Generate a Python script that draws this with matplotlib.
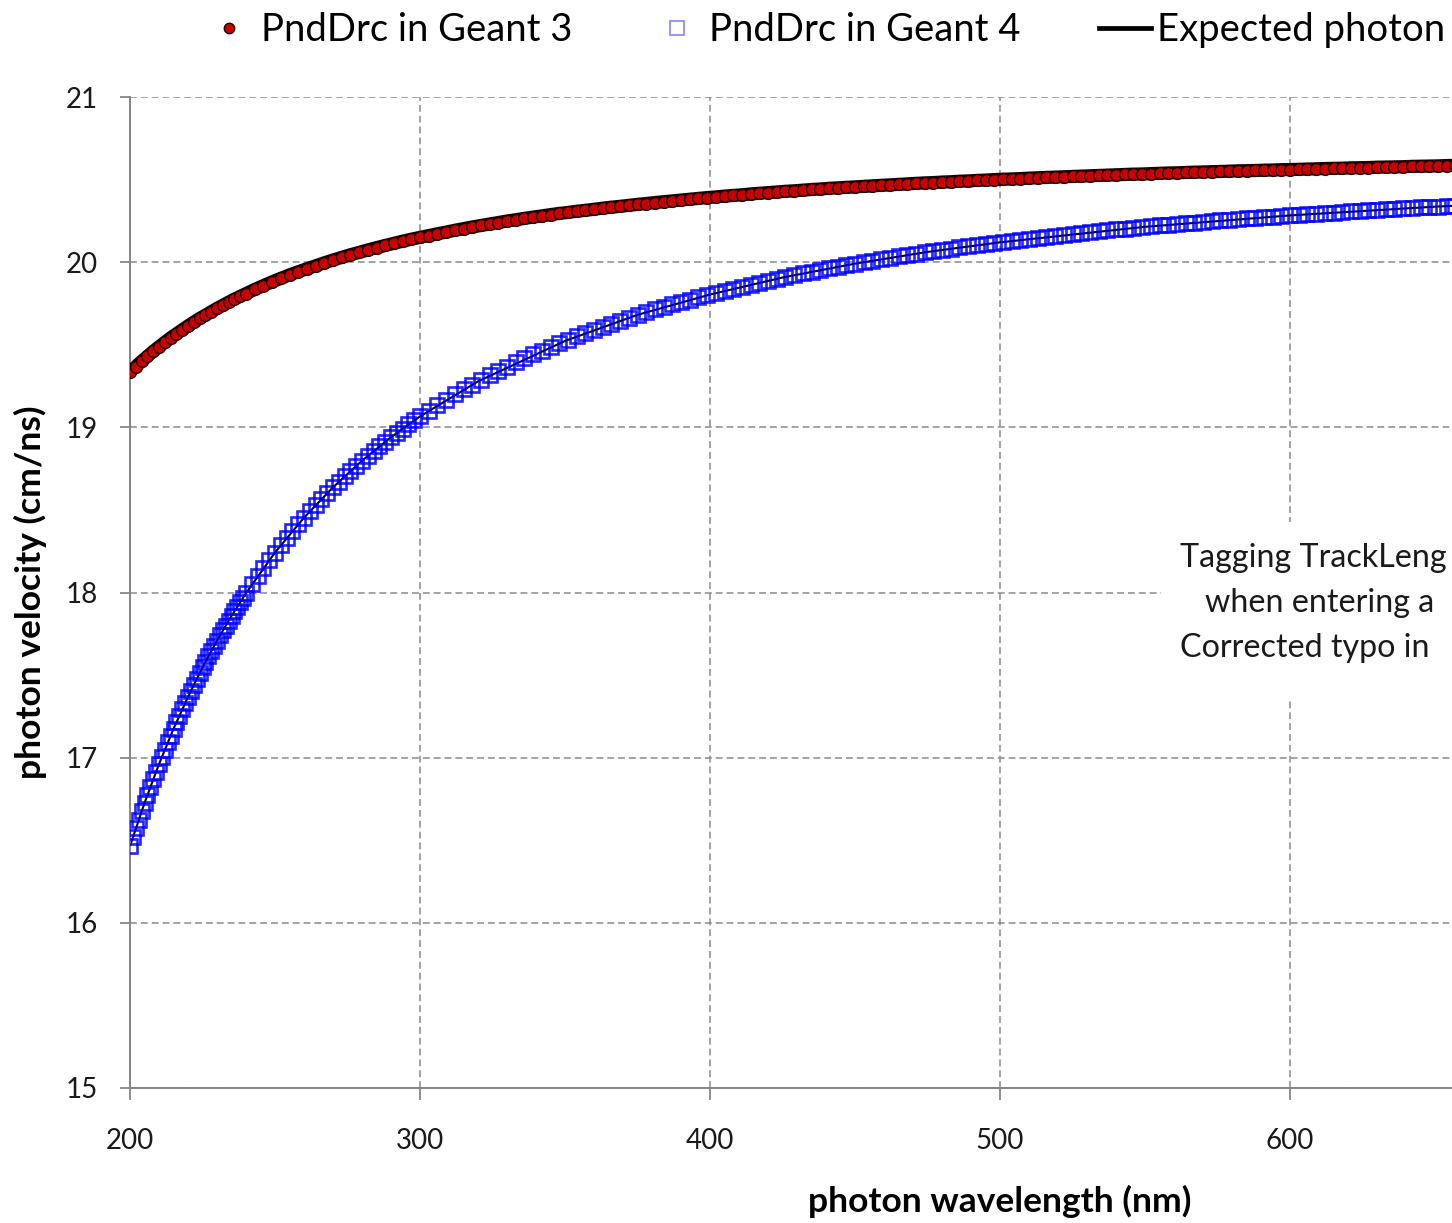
import matplotlib
matplotlib.use("Agg")
import matplotlib.pyplot as plt
from matplotlib.lines import Line2D
from matplotlib.patches import Rectangle

plt.rcParams['font.family'] = ['Lato', 'DejaVu Sans']

# ---------------- data ----------------
# PndDrc in Geant 3 (phase velocity, cm/ns)
g3_wavelength = list(range(200, 241, 2)) + list(range(243, 661, 3))
g3_velocity = [
    19.335, 19.368, 19.400, 19.430, 19.460, 19.488, 19.515, 19.542, 19.566, 19.590,
    19.614, 19.637, 19.659, 19.679, 19.700, 19.720, 19.739, 19.758, 19.776, 19.793,
    19.810,
    19.835, 19.858, 19.881, 19.902, 19.923, 19.942, 19.960, 19.978, 19.996, 20.013,
    20.029, 20.045, 20.059, 20.074, 20.088, 20.101, 20.114, 20.127, 20.139, 20.150,
    20.161, 20.172, 20.182, 20.193, 20.203, 20.213, 20.222, 20.231, 20.240, 20.249,
    20.257, 20.265, 20.273, 20.280, 20.288, 20.295, 20.301, 20.308, 20.314, 20.320,
    20.327, 20.333, 20.338, 20.344, 20.350, 20.355, 20.361, 20.366, 20.371, 20.376,
    20.381, 20.386, 20.391, 20.395, 20.400, 20.404, 20.408, 20.413, 20.417, 20.421,
    20.425, 20.429, 20.432, 20.436, 20.440, 20.443, 20.447, 20.450, 20.453, 20.456,
    20.459, 20.462, 20.465, 20.468, 20.471, 20.474, 20.477, 20.480, 20.482, 20.485,
    20.487, 20.490, 20.492, 20.495, 20.497, 20.500, 20.502, 20.504, 20.506, 20.509,
    20.511, 20.513, 20.515, 20.517, 20.519, 20.521, 20.523, 20.525, 20.527, 20.529,
    20.531, 20.533, 20.534, 20.536, 20.538, 20.540, 20.541, 20.543, 20.545, 20.546,
    20.548, 20.549, 20.551, 20.553, 20.554, 20.555, 20.557, 20.558, 20.560, 20.561,
    20.562, 20.564, 20.565, 20.567, 20.568, 20.569, 20.571, 20.572, 20.573, 20.575,
    20.576, 20.577, 20.578, 20.580, 20.581, 20.582, 20.583, 20.585, 20.586, 20.587,
]

# PndDrc in Geant 4 (group velocity, cm/ns)
g4_wavelength = list(range(200, 241, 1)) + list(range(242, 301, 2)) + list(range(303, 661, 3))
g4_velocity = [
    16.465, 16.519, 16.572, 16.624, 16.675, 16.725, 16.774, 16.822, 16.870, 16.916,
    16.961, 17.006, 17.049, 17.092, 17.133, 17.174, 17.215, 17.254, 17.293, 17.331,
    17.368, 17.405, 17.441, 17.477, 17.512, 17.546, 17.580, 17.613, 17.646, 17.678,
    17.709, 17.740, 17.771, 17.800, 17.830, 17.858, 17.887, 17.914, 17.942, 17.969,
    17.996,
    18.049, 18.100, 18.149, 18.197, 18.242, 18.287, 18.330, 18.372, 18.413, 18.453,
    18.492, 18.530, 18.567, 18.603, 18.637, 18.671, 18.704, 18.736, 18.768, 18.798,
    18.828, 18.857, 18.885, 18.913, 18.940, 18.967, 18.992, 19.018, 19.042, 19.066,
    19.101, 19.135, 19.167, 19.199, 19.230, 19.259, 19.287, 19.315, 19.342, 19.368,
    19.393, 19.418, 19.442, 19.465, 19.487, 19.509, 19.530, 19.551, 19.571, 19.590,
    19.609, 19.628, 19.646, 19.664, 19.681, 19.697, 19.714, 19.729, 19.744, 19.759,
    19.773, 19.787, 19.800, 19.813, 19.826, 19.839, 19.852, 19.864, 19.876, 19.888,
    19.899, 19.911, 19.922, 19.932, 19.943, 19.953, 19.963, 19.973, 19.982, 19.991,
    20.000, 20.009, 20.018, 20.027, 20.035, 20.043, 20.052, 20.059, 20.067, 20.075,
    20.082, 20.089, 20.096, 20.103, 20.109, 20.116, 20.122, 20.129, 20.135, 20.141,
    20.148, 20.154, 20.160, 20.165, 20.171, 20.177, 20.182, 20.187, 20.193, 20.198,
    20.203, 20.208, 20.212, 20.217, 20.222, 20.227, 20.231, 20.236, 20.240, 20.244,
    20.249, 20.253, 20.257, 20.261, 20.265, 20.269, 20.272, 20.276, 20.280, 20.283,
    20.287, 20.290, 20.294, 20.297, 20.300, 20.304, 20.307, 20.310, 20.313, 20.316,
    20.320, 20.323, 20.326, 20.328, 20.331, 20.334, 20.337, 20.340, 20.342, 20.345,
]

# Expected photon velocity (black line)
exp_wavelength = [200, 205, 210, 215, 220, 225, 230, 235, 240, 250, 260, 270, 280,
                  290, 300, 320, 350, 375, 400, 425, 450, 475, 500, 550, 600, 650, 700]
exp_velocity = [16.465, 16.725, 16.961, 17.174, 17.368, 17.546, 17.709, 17.858, 17.996,
                18.242, 18.453, 18.637, 18.798, 18.940, 19.066, 19.278, 19.523, 19.681,
                19.804, 19.907, 19.991, 20.062, 20.120, 20.214, 20.283, 20.336, 20.377]

x_ticks = [200, 300, 400, 500, 600]
y_ticks = [15, 16, 17, 18, 19, 20, 21]

# texts as visible in the (right-cropped) reference
legend_labels = ["PndDrc in Geant 3", "PndDrc in Geant 4", "Expected photon"]
note_lines = ["Tagging TrackLeng", "when entering a", "Corrected typo in"]

# ---------------- figure ----------------
W, H = 1452, 1223
fig = plt.figure(figsize=(W / 100, H / 100), dpi=100)
ax = fig.add_axes([130 / W, (H - 1088) / H, 1740 / W, 991 / H])
ax.set_xlim(200, 800)
ax.set_ylim(15, 21)
ax.set_xticks(x_ticks)
ax.set_yticks(y_ticks)

grey = '#868686'
for s in ['top', 'right']:
    ax.spines[s].set_visible(False)
for s in ['left', 'bottom']:
    ax.spines[s].set_color(grey)
    ax.spines[s].set_linewidth(1.4)

ax.grid(True, color='#8a8a8a', linewidth=1.1, linestyle=(0, (4.5, 2.6)))
ax.set_axisbelow(True)

ax.tick_params(axis='x', direction='out', length=8.5, width=1.3, color=grey,
               pad=20, labelsize=20, labelcolor='#1a1a1a')
ax.tick_params(axis='y', direction='out', length=7.2, width=1.3, color=grey,
               pad=16, labelsize=20, labelcolor='#1a1a1a')

# expected line (under the hollow squares)
ax.plot(exp_wavelength, exp_velocity, color='black', lw=1.5, zorder=2.5)

# Geant 3: red filled circles on a dark band
ax.plot(g3_wavelength, g3_velocity, color='#1a0000', lw=9.5, solid_capstyle='round',
        zorder=3)
ax.plot(g3_wavelength, g3_velocity, ls='none', marker='o', markersize=8.5,
        markerfacecolor='#c80000', markeredgecolor='#200000', markeredgewidth=1.0,
        zorder=4)

# Geant 4: hollow blue squares
ax.plot(g4_wavelength, g4_velocity, ls='none', marker='s', markersize=10,
        markerfacecolor='none', markeredgecolor=(0, 0, 1, 0.85), markeredgewidth=1.9,
        zorder=3)

ax.set_xlabel("photon wavelength (nm)", fontsize=25.5, fontweight='bold', va='center')
ax.xaxis.set_label_coords(0.5, (1088 - 1201) / 991)
ax.set_ylabel("photon velocity (cm/ns)", fontsize=25.5, fontweight='bold', va='center')
ax.yaxis.set_label_coords((30 - 130) / 1740, 0.5)

# legend
handles = [
    Line2D([], [], ls='none', marker='o', markersize=7.5, markerfacecolor='#c80000',
           markeredgecolor='#200000', markeredgewidth=1.0),
    Line2D([], [], ls='none', marker='s', markersize=9.5, markerfacecolor='none',
           markeredgecolor=(0, 0, 1, 0.45), markeredgewidth=1.3),
    Line2D([], [], color='black', lw=3.4),
]
fig.legend(handles, legend_labels, loc='center left',
           bbox_to_anchor=(203 / W, 1 - 30 / H), ncol=3, frameon=False,
           fontsize=27.5, handlelength=1.37, handletextpad=0.15,
           columnspacing=2.05, borderpad=0, borderaxespad=0)

# note box
fig.patches.append(Rectangle((1161 / W, 1 - 698 / H), 400 / W, 176 / H,
                             transform=fig.transFigure, facecolor='white',
                             edgecolor='none', zorder=2))
note_x = [1180, 1205, 1180]
note_y = [567, 612, 657]
for txt, xx, yy in zip(note_lines, note_x, note_y):
    fig.text(xx / W, 1 - yy / H, txt, fontsize=23.2, va='baseline', ha='left',
             color='#1a1a1a', zorder=3)

fig.savefig("out.png", dpi=100)
